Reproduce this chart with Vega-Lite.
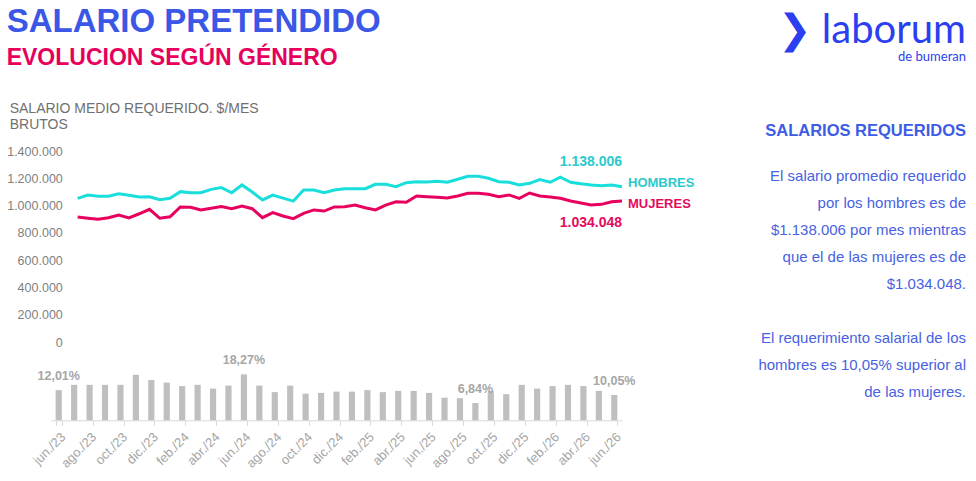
{
  "$schema": "https://vega.github.io/schema/vega-lite/v6.json",
  "background": "white",
  "padding": {"left": 6, "top": 6, "right": 5, "bottom": 5},
  "config": {
    "font": "Liberation Sans",
    "view": {"stroke": null},
    "locale": {"number": {"decimal": ",", "thousands": ".", "grouping": [3], "currency": ["$", ""]}}
  },
  "datasets": {
    "salarios": [
      {"i": 1, "g": "HOMBRES", "v": 1053000}, {"i": 2, "g": "HOMBRES", "v": 1077000}, {"i": 3, "g": "HOMBRES", "v": 1068000},
      {"i": 4, "g": "HOMBRES", "v": 1068000}, {"i": 5, "g": "HOMBRES", "v": 1087000}, {"i": 6, "g": "HOMBRES", "v": 1075000},
      {"i": 7, "g": "HOMBRES", "v": 1063000}, {"i": 8, "g": "HOMBRES", "v": 1065000}, {"i": 9, "g": "HOMBRES", "v": 1043000},
      {"i": 10, "g": "HOMBRES", "v": 1053000}, {"i": 11, "g": "HOMBRES", "v": 1102000}, {"i": 12, "g": "HOMBRES", "v": 1094000},
      {"i": 13, "g": "HOMBRES", "v": 1094000}, {"i": 14, "g": "HOMBRES", "v": 1119000}, {"i": 15, "g": "HOMBRES", "v": 1132000},
      {"i": 16, "g": "HOMBRES", "v": 1094000}, {"i": 17, "g": "HOMBRES", "v": 1151000}, {"i": 18, "g": "HOMBRES", "v": 1099000},
      {"i": 19, "g": "HOMBRES", "v": 1041000}, {"i": 20, "g": "HOMBRES", "v": 1077000}, {"i": 21, "g": "HOMBRES", "v": 1055000},
      {"i": 22, "g": "HOMBRES", "v": 1033000}, {"i": 23, "g": "HOMBRES", "v": 1114000}, {"i": 24, "g": "HOMBRES", "v": 1114000},
      {"i": 25, "g": "HOMBRES", "v": 1094000}, {"i": 26, "g": "HOMBRES", "v": 1114000}, {"i": 27, "g": "HOMBRES", "v": 1124000},
      {"i": 28, "g": "HOMBRES", "v": 1124000}, {"i": 29, "g": "HOMBRES", "v": 1124000}, {"i": 30, "g": "HOMBRES", "v": 1156000},
      {"i": 31, "g": "HOMBRES", "v": 1156000}, {"i": 32, "g": "HOMBRES", "v": 1138000}, {"i": 33, "g": "HOMBRES", "v": 1168000},
      {"i": 34, "g": "HOMBRES", "v": 1175000}, {"i": 35, "g": "HOMBRES", "v": 1173000}, {"i": 36, "g": "HOMBRES", "v": 1178000},
      {"i": 37, "g": "HOMBRES", "v": 1171000}, {"i": 38, "g": "HOMBRES", "v": 1193000}, {"i": 39, "g": "HOMBRES", "v": 1215000},
      {"i": 40, "g": "HOMBRES", "v": 1215000}, {"i": 41, "g": "HOMBRES", "v": 1200000}, {"i": 42, "g": "HOMBRES", "v": 1175000},
      {"i": 43, "g": "HOMBRES", "v": 1171000}, {"i": 44, "g": "HOMBRES", "v": 1151000}, {"i": 45, "g": "HOMBRES", "v": 1163000},
      {"i": 46, "g": "HOMBRES", "v": 1190000}, {"i": 47, "g": "HOMBRES", "v": 1171000}, {"i": 48, "g": "HOMBRES", "v": 1209000},
      {"i": 49, "g": "HOMBRES", "v": 1171000}, {"i": 50, "g": "HOMBRES", "v": 1160000}, {"i": 51, "g": "HOMBRES", "v": 1151000},
      {"i": 52, "g": "HOMBRES", "v": 1146000}, {"i": 53, "g": "HOMBRES", "v": 1151000}, {"i": 54, "g": "HOMBRES", "v": 1138006},
      {"i": 1, "g": "MUJERES", "v": 916000}, {"i": 2, "g": "MUJERES", "v": 907000}, {"i": 3, "g": "MUJERES", "v": 899000},
      {"i": 4, "g": "MUJERES", "v": 911000}, {"i": 5, "g": "MUJERES", "v": 931000}, {"i": 6, "g": "MUJERES", "v": 909000},
      {"i": 7, "g": "MUJERES", "v": 940000}, {"i": 8, "g": "MUJERES", "v": 973000}, {"i": 9, "g": "MUJERES", "v": 907000},
      {"i": 10, "g": "MUJERES", "v": 918000}, {"i": 11, "g": "MUJERES", "v": 990000}, {"i": 12, "g": "MUJERES", "v": 987000},
      {"i": 13, "g": "MUJERES", "v": 968000}, {"i": 14, "g": "MUJERES", "v": 980000}, {"i": 15, "g": "MUJERES", "v": 993000},
      {"i": 16, "g": "MUJERES", "v": 977000}, {"i": 17, "g": "MUJERES", "v": 997000}, {"i": 18, "g": "MUJERES", "v": 977000},
      {"i": 19, "g": "MUJERES", "v": 911000}, {"i": 20, "g": "MUJERES", "v": 948000}, {"i": 21, "g": "MUJERES", "v": 924000},
      {"i": 22, "g": "MUJERES", "v": 904000}, {"i": 23, "g": "MUJERES", "v": 943000}, {"i": 24, "g": "MUJERES", "v": 968000},
      {"i": 25, "g": "MUJERES", "v": 960000}, {"i": 26, "g": "MUJERES", "v": 990000}, {"i": 27, "g": "MUJERES", "v": 992000},
      {"i": 28, "g": "MUJERES", "v": 1004000}, {"i": 29, "g": "MUJERES", "v": 984000}, {"i": 30, "g": "MUJERES", "v": 968000},
      {"i": 31, "g": "MUJERES", "v": 1004000}, {"i": 32, "g": "MUJERES", "v": 1028000}, {"i": 33, "g": "MUJERES", "v": 1024000},
      {"i": 34, "g": "MUJERES", "v": 1070000}, {"i": 35, "g": "MUJERES", "v": 1065000}, {"i": 36, "g": "MUJERES", "v": 1061000},
      {"i": 37, "g": "MUJERES", "v": 1056000}, {"i": 38, "g": "MUJERES", "v": 1070000}, {"i": 39, "g": "MUJERES", "v": 1090000},
      {"i": 40, "g": "MUJERES", "v": 1090000}, {"i": 41, "g": "MUJERES", "v": 1083000}, {"i": 42, "g": "MUJERES", "v": 1065000},
      {"i": 43, "g": "MUJERES", "v": 1078000}, {"i": 44, "g": "MUJERES", "v": 1053000}, {"i": 45, "g": "MUJERES", "v": 1092000},
      {"i": 46, "g": "MUJERES", "v": 1070000}, {"i": 47, "g": "MUJERES", "v": 1063000}, {"i": 48, "g": "MUJERES", "v": 1053000},
      {"i": 49, "g": "MUJERES", "v": 1034000}, {"i": 50, "g": "MUJERES", "v": 1019000}, {"i": 51, "g": "MUJERES", "v": 1004000},
      {"i": 52, "g": "MUJERES", "v": 1009000}, {"i": 53, "g": "MUJERES", "v": 1028000}, {"i": 54, "g": "MUJERES", "v": 1034048}
    ],
    "brecha": [
      {"mes": "jun./23", "b": 0.1201}, {"mes": "jul./23", "b": 0.141}, {"mes": "ago./23", "b": 0.141},
      {"mes": "sep./23", "b": 0.141}, {"mes": "oct./23", "b": 0.141}, {"mes": "nov./23", "b": 0.181},
      {"mes": "dic./23", "b": 0.160}, {"mes": "ene./24", "b": 0.150}, {"mes": "feb./24", "b": 0.136},
      {"mes": "mar./24", "b": 0.141}, {"mes": "abr./24", "b": 0.126}, {"mes": "may./24", "b": 0.138},
      {"mes": "jun./24", "b": 0.1827}, {"mes": "jul./24", "b": 0.138}, {"mes": "ago./24", "b": 0.112},
      {"mes": "sep./24", "b": 0.138}, {"mes": "oct./24", "b": 0.106}, {"mes": "nov./24", "b": 0.109},
      {"mes": "dic./24", "b": 0.114}, {"mes": "ene./25", "b": 0.114}, {"mes": "feb./25", "b": 0.120},
      {"mes": "mar./25", "b": 0.112}, {"mes": "abr./25", "b": 0.117}, {"mes": "may./25", "b": 0.117},
      {"mes": "jun./25", "b": 0.109}, {"mes": "jul./25", "b": 0.090}, {"mes": "ago./25", "b": 0.088},
      {"mes": "sep./25", "b": 0.0684}, {"mes": "oct./25", "b": 0.117}, {"mes": "nov./25", "b": 0.104},
      {"mes": "dic./25", "b": 0.141}, {"mes": "ene./26", "b": 0.126}, {"mes": "feb./26", "b": 0.136},
      {"mes": "mar./26", "b": 0.141}, {"mes": "abr./26", "b": 0.136}, {"mes": "may./26", "b": 0.117},
      {"mes": "jun./26", "b": 0.1005}
    ]
  },
  "spacing": 20,
  "hconcat": [
    {
      "title": {
        "text": "SALARIO PRETENDIDO",
        "subtitle": "EVOLUCION SEGÚN GÉNERO",
        "anchor": "start",
        "fontSize": 33,
        "fontWeight": "bold",
        "color": "#3b57e6",
        "subtitleFontSize": 23,
        "subtitleFontWeight": "bold",
        "subtitleColor": "#e6005c",
        "subtitlePadding": 8,
        "offset": 32
      },
      "bounds": "flush",
      "spacing": 28,
      "vconcat": [
        {
          "width": 571,
          "height": 191,
          "title": {
            "text": ["SALARIO MEDIO REQUERIDO. $/MES", "BRUTOS"],
            "anchor": "start",
            "fontSize": 14,
            "fontWeight": "normal",
            "color": "#707070",
            "lineHeight": 16,
            "offset": 13,
            "dx": 3
          },
          "data": {"name": "salarios"},
          "encoding": {
            "x": {"field": "i", "type": "quantitative", "scale": {"domain": [-1.59, 54], "nice": false}, "axis": null},
            "y": {
              "field": "v",
              "type": "quantitative",
              "scale": {"domain": [0, 1400000], "nice": false},
              "axis": {
                "title": null,
                "values": [0, 200000, 400000, 600000, 800000, 1000000, 1200000, 1400000],
                "format": ",d",
                "domain": false,
                "ticks": false,
                "grid": false,
                "labelPadding": 0,
                "offset": -11.3,
                "labelColor": "#7f7f7f",
                "labelFontSize": 12.5
              }
            }
          },
          "layer": [
            {
              "mark": {"type": "line", "strokeWidth": 3},
              "encoding": {
                "color": {"field": "g", "type": "nominal", "scale": {"domain": ["HOMBRES", "MUJERES"], "range": ["#19dfdc", "#e8005e"]}, "legend": null}
              }
            },
            {
              "transform": [{"filter": "datum.i == 54 && datum.g == 'HOMBRES'"}],
              "mark": {"type": "text", "align": "right", "baseline": "middle", "dy": -25, "fontSize": 14, "fontWeight": "bold", "color": "#2cc9cd"},
              "encoding": {"text": {"field": "v", "type": "quantitative", "format": ",d"}}
            },
            {
              "transform": [{"filter": "datum.i == 54 && datum.g == 'MUJERES'"}],
              "mark": {"type": "text", "align": "right", "baseline": "middle", "dy": 22, "fontSize": 14, "fontWeight": "bold", "color": "#e30b5c"},
              "encoding": {"text": {"field": "v", "type": "quantitative", "format": ",d"}}
            },
            {
              "transform": [{"filter": "datum.i == 54 && datum.g == 'HOMBRES'"}],
              "mark": {"type": "text", "align": "left", "baseline": "middle", "dx": 6, "dy": -4, "fontSize": 13, "fontWeight": "bold", "color": "#2cc9cd"},
              "encoding": {"text": {"field": "g"}}
            },
            {
              "transform": [{"filter": "datum.i == 54 && datum.g == 'MUJERES'"}],
              "mark": {"type": "text", "align": "left", "baseline": "middle", "dx": 6, "dy": 3, "fontSize": 13, "fontWeight": "bold", "color": "#e30b5c"},
              "encoding": {"text": {"field": "g"}}
            }
          ]
        },
        {
          "width": 571,
          "height": 50.3,
          "data": {"name": "brecha"},
          "encoding": {
            "x": {
              "field": "mes",
              "type": "ordinal",
              "sort": null,
              "scale": {"paddingInner": 0.6, "paddingOuter": 0.3},
              "axis": {
                "title": null,
                "values": ["jun./23", "ago./23", "oct./23", "dic./23", "feb./24", "abr./24", "jun./24", "ago./24", "oct./24", "dic./24", "feb./25", "abr./25", "jun./25", "ago./25", "oct./25", "dic./25", "feb./26", "abr./26", "jun./26"],
                "labelAngle": -45,
                "labelColor": "#a6a6a6",
                "labelFontSize": 13,
                "labelPadding": 5,
                "domainColor": "#d9d9d9",
                "tickColor": "#d9d9d9",
                "tickSize": 5,
                "tickBand": "extent",
                "grid": false
              }
            },
            "y": {"field": "b", "type": "quantitative", "scale": {"domain": [0, 0.2], "nice": false}, "axis": null}
          },
          "layer": [
            {"mark": {"type": "bar", "color": "#bfbfbf"}},
            {
              "transform": [{"filter": {"field": "mes", "oneOf": ["jun./23", "jun./24", "sep./25", "jun./26"]}}],
              "mark": {"type": "text", "baseline": "bottom", "dy": -7, "fontSize": 12.5, "fontWeight": "bold", "color": "#a6a6a6"},
              "encoding": {"text": {"field": "b", "type": "quantitative", "format": ".2%"}}
            }
          ]
        }
      ]
    },
    {
      "title": {
        "text": "❯ laborum",
        "subtitle": "de bumeran",
        "anchor": "end",
        "font": "Lato",
        "fontSize": 40,
        "fontWeight": "normal",
        "color": "#2b3ff0",
        "subtitleFont": "Lato",
        "subtitleFontSize": 13,
        "subtitleColor": "#2b3ff0",
        "subtitlePadding": 0,
        "offset": 59
      },
      "vconcat": [
        {
          "width": 251,
          "height": 1,
          "data": {"values": []},
          "mark": "text",
          "title": {
            "text": "SALARIOS REQUERIDOS",
            "subtitle": [
              "El salario promedio requerido",
              "por los hombres es de",
              "$1.138.006 por mes mientras",
              "que el de las mujeres es de",
              "$1.034.048.",
              "\u200b",
              "El requerimiento salarial de los",
              "hombres es 10,05% superior al",
              "de las mujeres."
            ],
            "orient": "bottom",
            "offset": -29,
            "anchor": "end",
            "fontSize": 16.5,
            "fontWeight": "bold",
            "color": "#3d5ce6",
            "subtitleFontSize": 15,
            "subtitleColor": "#4762e2",
            "subtitleLineHeight": 27,
            "subtitlePadding": 29
          }
        }
      ]
    }
  ]
}
